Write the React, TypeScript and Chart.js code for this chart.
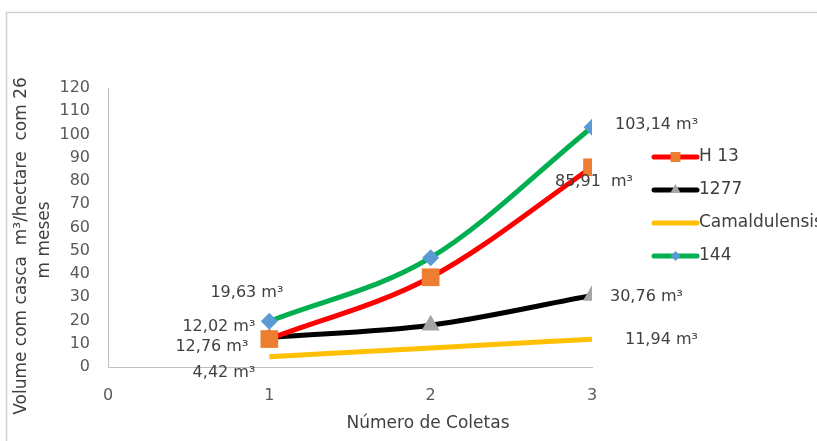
import React, { useEffect, useRef } from "react";
import { Chart, registerables } from "chart.js";

Chart.register(...registerables);

// ---- data ----
const coletas = [1, 2, 3];
const xTickValues = [0, 1, 2, 3];
const yMax = 120;
const yStep = 10;
const seriesNames = ["H 13", "1277", "Camaldulensis", "144"];
const valuesH13 = [12.02, 38.6, 85.91];
const values1277 = [12.76, 18, 30.76];
const valuesCamaldulensis = [4.42, 8.2, 11.94];
const values144 = [19.63, 47, 103.14];
const labelsH13 = ["12,02 m³", "", "85,91  m³"];
const labels1277 = ["12,76 m³", "", "30,76 m³"];
const labelsCamaldulensis = ["4,42 m³", "", "11,94 m³"];
const labels144 = ["19,63 m³", "", "103,14 m³"];
const xTitle = "Número de Coletas";
const yTitleLines = ["Volume com casca  m³/hectare  com 26", "m meses"];

// ---- styles ----
const FONT = '"DejaVu Sans", sans-serif';
const TEXT = "#404040";
const TICK = "#595959";
const AXIS = "#bfbfbf";

const seriesStyles = [
  { line: "#FF0000", marker: "#ED7D31", style: "rect", radius: 12.5, legendRadius: 7 },
  { line: "#000000", marker: "#A5A5A5", style: "triangle", radius: 10.5, legendRadius: 6 },
  { line: "#FFC000", marker: "#FFC000", style: "none", radius: 0, legendRadius: 0 },
  { line: "#00B050", marker: "#5B9BD5", style: "rectRot", radius: 8.5, legendRadius: 5 },
];
const allValues = [valuesH13, values1277, valuesCamaldulensis, values144];
const allLabels = [labelsH13, labels1277, labelsCamaldulensis, labels144];
// per series, per point: [dx, dy, align]
const labelOffsets: any[][] = [
  [[-14, -12, "right"], null, [-37, 15, "left"]],
  [[-21, 10, "right"], null, [18, 1, "left"]],
  [[-14, 16, "right"], null, [33, 1, "left"]],
  [[14, -29, "right"], null, [23, -2, "left"]],
];
const legendYs = [157, 190, 223, 256];

function drawMarker(ctx: CanvasRenderingContext2D, style: string, x: number, y: number, r: number, color: string) {
  if (style === "none" || r <= 0) return;
  ctx.save();
  ctx.fillStyle = color;
  ctx.beginPath();
  if (style === "rect") {
    const s = r * Math.SQRT1_2;
    ctx.rect(x - s, y - s, 2 * s, 2 * s);
  } else if (style === "rectRot") {
    ctx.moveTo(x - r, y);
    ctx.lineTo(x, y - r);
    ctx.lineTo(x + r, y);
    ctx.lineTo(x, y + r);
    ctx.closePath();
  } else if (style === "triangle") {
    for (let k = 0; k < 3; k++) {
      const a = (k * 2 * Math.PI) / 3;
      const px = x + Math.sin(a) * r;
      const py = y - Math.cos(a) * r;
      if (k === 0) ctx.moveTo(px, py);
      else ctx.lineTo(px, py);
    }
    ctx.closePath();
  }
  ctx.fill();
  ctx.restore();
}

const decorPlugin = {
  id: "decor",
  beforeDraw(chart: any) {
    const ctx = chart.ctx as CanvasRenderingContext2D;
    ctx.save();
    ctx.fillStyle = "#ffffff";
    ctx.fillRect(0, 0, chart.width, chart.height);
    ctx.strokeStyle = "#d0d0d0";
    ctx.lineWidth = 1.5;
    ctx.strokeRect(6.5, 12.5, 1200, 1200);
    ctx.restore();
  },
  afterDatasetsDraw(chart: any) {
    const ctx = chart.ctx as CanvasRenderingContext2D;
    ctx.save();
    ctx.font = `16px ${FONT}`;
    ctx.fillStyle = TEXT;
    ctx.textBaseline = "middle";
    allLabels.forEach((labels, si) => {
      const meta = chart.getDatasetMeta(si);
      labels.forEach((txt, pi) => {
        const off = labelOffsets[si][pi];
        if (!txt || !off) return;
        const el = meta.data[pi];
        ctx.textAlign = off[2];
        ctx.fillText(txt, el.x + off[0], el.y + off[1]);
      });
    });
    ctx.restore();
  },
  afterDraw(chart: any) {
    const ctx = chart.ctx as CanvasRenderingContext2D;
    ctx.save();
    // x title
    ctx.font = `17px ${FONT}`;
    ctx.fillStyle = TEXT;
    ctx.textAlign = "center";
    ctx.textBaseline = "middle";
    ctx.fillText(xTitle, 428, 424);
    // y title
    ctx.save();
    ctx.translate(22, 246);
    ctx.rotate(-Math.PI / 2);
    ctx.font = `17px ${FONT}`;
    ctx.fillText(yTitleLines[0], 0, 0);
    ctx.fillText(yTitleLines[1], 6, 23);
    ctx.restore();
    // legend
    ctx.font = `17px ${FONT}`;
    ctx.textAlign = "left";
    seriesNames.forEach((name, i) => {
      const st = seriesStyles[i];
      const y = legendYs[i];
      ctx.strokeStyle = st.line;
      ctx.lineWidth = 5;
      ctx.lineCap = "round";
      ctx.beginPath();
      ctx.moveTo(654, y);
      ctx.lineTo(697, y);
      ctx.stroke();
      drawMarker(ctx, st.style, 675.5, y, st.legendRadius, st.marker);
      ctx.fillStyle = TEXT;
      ctx.fillText(name, 699, y);
    });
    ctx.restore();
  },
};

export default function App() {
  const ref = useRef<HTMLCanvasElement | null>(null);
  useEffect(() => {
    if (!ref.current) return;
    const datasets = seriesNames.map((name, i) => ({
      label: name,
      data: coletas.map((c, j) => ({ x: c, y: allValues[i][j] })),
      borderColor: seriesStyles[i].line,
      backgroundColor: seriesStyles[i].marker,
      borderWidth: 5,
      cubicInterpolationMode: "monotone",
      pointStyle: seriesStyles[i].style === "none" ? false : seriesStyles[i].style,
      pointRadius: seriesStyles[i].radius,
      pointBackgroundColor: seriesStyles[i].marker,
      pointBorderColor: seriesStyles[i].marker,
      pointBorderWidth: 0,
      pointHoverRadius: seriesStyles[i].radius,
    }));
    const chart = new Chart(ref.current, {
      type: "line",
      data: { datasets } as any,
      plugins: [decorPlugin],
      options: {
        responsive: false,
        animation: false,
        devicePixelRatio: 1,
        layout: { padding: { left: 58, right: 225, top: 88, bottom: 34 } },
        plugins: { legend: { display: false }, tooltip: { enabled: false } },
        scales: {
          x: {
            type: "linear",
            min: 0,
            max: 3,
            afterFit: (s: any) => { s.height = 40; },
            afterBuildTicks: (s: any) => { s.ticks = xTickValues.map((v) => ({ value: v })); },
            grid: { display: true, drawOnChartArea: false, drawTicks: false },
            border: { display: true, color: AXIS, width: 1 },
            ticks: { padding: 19, color: TICK, font: { family: FONT, size: 16 } },
          },
          y: {
            min: 0,
            max: yMax,
            afterFit: (s: any) => { s.width = 50; },
            grid: { display: true, drawOnChartArea: false, drawTicks: false },
            border: { display: true, color: AXIS, width: 1 },
            ticks: { stepSize: yStep, padding: 18, color: TICK, font: { family: FONT, size: 16 } },
          },
        },
      } as any,
    });
    return () => chart.destroy();
  }, []);
  return (
    <div style={{ position: "fixed", left: 0, top: 0, width: 817, height: 441, background: "#fff" }}>
      <canvas ref={ref} width={817} height={441} style={{ display: "block", width: 817, height: 441 }} />
    </div>
  );
}
